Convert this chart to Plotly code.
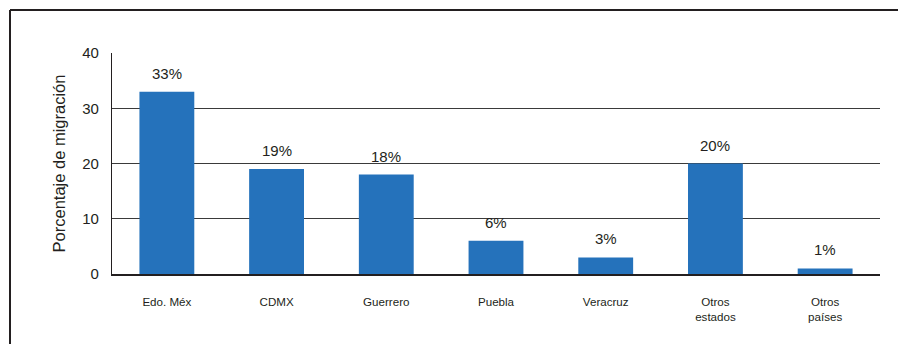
import plotly.graph_objects as go

# Destinos de migración y su porcentaje
categorias = ["Edo. Méx", "CDMX", "Guerrero", "Puebla", "Veracruz",
              "Otros<br>estados", "Otros<br>países"]
porcentajes = [33, 19, 18, 6, 3, 20, 1]
y_ticks = [0, 10, 20, 30, 40]

BAR_COLOR = "#2572BB"
TEXT_COLOR = "#231F20"
FONT = "Liberation Sans, Arial, sans-serif"

W, H = 898, 344
ML, MR, MT, MB = 112, 18, 53, 70
plot_w = W - ML - MR
plot_h = H - MT - MB

fig = go.Figure()
fig.add_trace(go.Bar(
    x=categorias,
    y=porcentajes,
    marker=dict(color=BAR_COLOR, line=dict(width=0)),
    width=0.5,
    hoverinfo="skip",
))

# Etiquetas de porcentaje sobre cada barra
for cat, val in zip(categorias, porcentajes):
    fig.add_annotation(
        x=cat, y=val, text=f"{val}%", showarrow=False,
        yanchor="bottom", yshift=8,
        font=dict(size=15, color=TEXT_COLOR, family=FONT),
    )

# Marco exterior (izquierda y arriba)
def px_to_paper_x(px):
    return (px - ML) / plot_w

def px_to_paper_y(py):
    return (H - MB - py) / plot_h

frame = dict(color="#231F20", width=2)
fig.add_shape(type="line", xref="paper", yref="paper",
              x0=px_to_paper_x(10), x1=px_to_paper_x(10),
              y0=px_to_paper_y(10), y1=px_to_paper_y(H + 5), line=frame)
fig.add_shape(type="line", xref="paper", yref="paper",
              x0=px_to_paper_x(10), x1=px_to_paper_x(W + 5),
              y0=px_to_paper_y(10), y1=px_to_paper_y(10), line=frame)

fig.update_layout(
    width=W, height=H,
    margin=dict(l=ML, r=MR, t=MT, b=MB, pad=0),
    paper_bgcolor="white", plot_bgcolor="white",
    showlegend=False,
    bargap=0.5,
    font=dict(family=FONT, color=TEXT_COLOR),
    xaxis=dict(
        type="category",
        showgrid=False, zeroline=False,
        showline=True, linecolor="#231F20", linewidth=1.5,
        ticks="", tickfont=dict(size=11.6, color=TEXT_COLOR),
        ticklabelstandoff=16,
        fixedrange=True,
    ),
    yaxis=dict(
        range=[0, 40], tickvals=y_ticks,
        showgrid=True, gridcolor="#3A3A3A", gridwidth=1.2,
        zeroline=False,
        showline=True, linecolor="#231F20", linewidth=1.2,
        ticks="", tickfont=dict(size=15, color=TEXT_COLOR),
        ticklabelstandoff=9,
        title=dict(text="Porcentaje de migración", standoff=12,
                   font=dict(size=16.5, color=TEXT_COLOR)),
        fixedrange=True,
    ),
)

fig.write_html("out.html")
